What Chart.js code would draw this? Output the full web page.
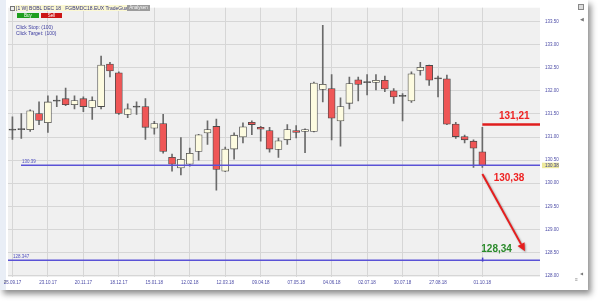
<!DOCTYPE html>
<html>
<head>
<meta charset="utf-8">
<script src="https://cdn.jsdelivr.net/npm/chart.js@4.4.1/dist/chart.umd.min.js"></script>
<style>
  html, body { margin:0; padding:0; background:#ffffff; width:606px; height:306px; overflow:hidden; }
  #panel { position:absolute; left:0; top:0; width:588px; height:290px; background:#ffffff;
           box-shadow: 3px 4px 6px rgba(0,0,0,0.45); }
  #stripe { position:absolute; left:0; top:0; width:6px; height:290px; background:#e9eef6; }
  canvas { position:absolute; left:0; top:0; }
  .t { position:absolute; font-family:"Liberation Sans", Arial, sans-serif; white-space:nowrap; line-height:1; }
</style>
</head>
<body>
<div id="panel">
  <div id="stripe"></div>
  <canvas id="c" width="588" height="290"></canvas>
  <div class="t" style="left:10px;top:6px;width:3px;height:3px;border:0.5px solid #777;background:#eee;"></div>
  <div class="t" style="left:15px;top:5px;height:6px;padding:0 1px;background:#fbf8d2;color:#33337a;font-size:5px;line-height:6px;">[1 W] BOBL DEC 18&nbsp;&nbsp; FGBMDC18.EUX TradeGuard</div>
  <div class="t" style="left:127px;top:5px;width:23px;height:6px;background:#9c9c9c;color:#f4f4f4;font-size:4.5px;line-height:6px;text-align:center;">Analysen</div>
  <div class="t" style="left:17px;top:13px;width:22px;height:5px;background:#1e9e1e;color:#ffffff;font-size:4.5px;line-height:5px;text-align:center;">Buy</div>
  <div class="t" style="left:41px;top:13px;width:21px;height:5px;background:#cc1515;color:#ffffff;font-size:4.5px;line-height:5px;text-align:center;">Sell</div>
  <div class="t" style="left:16px;top:25px;color:#3c3ca0;font-size:5px;">Click Stop: (100)</div>
  <div class="t" style="left:16px;top:31px;color:#3c3ca0;font-size:5px;">Click Target: (100)</div>
  <div class="t" style="left:578px;top:4px;width:4px;height:4px;border:0.5px solid #888;background:#ddd;"></div>
  <div class="t" style="left:580px;top:17px;color:#777;font-size:5px;">&#9664;</div>
  <div class="t" style="left:575px;top:277px;color:#888;font-size:5px;">&#8801;</div>
  <div class="t" style="left:580px;top:272px;color:#777;font-size:4px;">&#9664;</div>
  <div class="t" style="left:4px;top:279px;color:#888;font-size:5px;">&#8801;</div>
</div>
<script>
// ---- data ----
const weeks = [
  '25.09.17','02.10.17','09.10.17','16.10.17','23.10.17','30.10.17','06.11.17','13.11.17','20.11.17','27.11.17',
  '04.12.17','11.12.17','18.12.17','25.12.17','01.01.18','08.01.18','15.01.18','22.01.18','29.01.18','05.02.18',
  '12.02.18','19.02.18','26.02.18','05.03.18','12.03.18','19.03.18','26.03.18','02.04.18','09.04.18','16.04.18',
  '23.04.18','30.04.18','07.05.18','14.05.18','21.05.18','28.05.18','04.06.18','11.06.18','18.06.18','25.06.18',
  '02.07.18','09.07.18','16.07.18','23.07.18','30.07.18','06.08.18','13.08.18','20.08.18','27.08.18','03.09.18',
  '10.09.18','17.09.18','24.09.18','01.10.18'
];
const futureSlots = ['+1','+2','+3','+4','+5','+6'];
const opens  = [131.15,131.16,131.16,131.51,131.31,131.78,131.83,131.70,131.83,131.64,131.66,132.58,132.39,131.49,131.65,131.66,131.19,131.29,130.56,130.33,130.41,130.69,131.09,131.23,130.26,130.74,131.00,131.32,131.21,131.14,130.73,130.94,131.14,131.12,131.12,132.03,132.05,131.35,131.73,132.24,132.18,132.18,132.23,132.00,131.88,131.78,132.44,132.55,132.26,132.26,131.28,131.01,130.91,130.68];
const highs  = [131.44,131.51,131.59,131.76,131.89,131.89,132.06,131.89,131.87,131.87,132.75,132.62,132.41,131.72,131.76,131.83,131.34,131.49,130.63,130.99,130.76,131.06,131.35,131.39,130.78,131.09,131.31,131.35,131.23,131.21,130.98,131.27,131.25,131.18,132.19,133.42,132.35,131.85,132.30,132.30,132.35,132.35,132.32,132.05,131.94,132.41,132.62,132.56,132.32,132.34,131.32,131.04,130.94,131.21];
const lows   = [130.95,130.97,131.12,131.27,131.10,131.66,131.68,131.61,131.55,131.38,131.61,132.30,131.49,131.42,131.49,130.95,131.06,130.65,130.26,130.18,130.37,130.50,130.84,129.85,130.25,130.52,130.87,131.05,130.91,130.67,130.56,130.84,130.98,130.66,131.11,131.76,130.94,130.80,131.61,131.78,131.91,132.02,131.98,131.73,131.35,131.75,132.34,132.12,131.87,131.27,130.97,130.87,130.34,130.34];
const closes = [131.17,131.18,131.57,131.36,131.76,131.80,131.70,131.79,131.66,131.79,132.56,132.43,131.51,131.61,131.67,131.21,131.29,130.69,130.41,130.52,130.65,131.05,131.16,130.30,130.74,131.04,131.22,131.27,131.17,130.74,130.92,131.16,131.10,131.16,132.17,132.14,131.41,131.66,132.16,132.14,132.20,132.23,132.04,131.87,131.90,132.37,132.51,132.23,132.28,131.28,131.01,130.94,130.76,130.38];
const xTickLabels = ['25.09.17','23.10.17','20.11.17','18.12.17','15.01.18','12.02.18','12.03.18','09.04.18','07.05.18','04.06.18','02.07.18','30.07.18','27.08.18','01.10.18'];
const yTicks = [128.00,128.50,129.00,129.50,130.00,130.50,131.00,131.50,132.00,132.50,133.00,133.50];
const levelValues = [130.39, 128.347];
const levelLabels = ['130.39', '128.347'];
const lastPrice = 130.38;
const resistance = 131.21;
const target = 128.34;
const noteLabels = ['131,21', '130,38', '128,34'];

// ---- build ----
const categories = weeks.concat(futureSlots);
const shown = new Set(xTickLabels.map(l => weeks.indexOf(l)));
const bodies = opens.map((o, i) => {
  const c = closes[i];
  if (Math.abs(c - o) < 0.025) { const m = (o + c) / 2; return [m - 0.012, m + 0.012]; }
  return [o, c];
});
const bodyColors = opens.map((o, i) => {
  const c = closes[i];
  if (Math.abs(c - o) < 0.025) return '#505050';
  return c > o ? '#fdfbe0' : '#ef5656';
});
const wicks = lows.map((l, i) => [l, highs[i]]);

const overlay = {
  id: 'overlay',
  beforeDraw(chart) {
    const { ctx, chartArea: a } = chart;
    ctx.save();
    ctx.fillStyle = '#f0f0f0';
    ctx.fillRect(a.left, a.top, a.width, a.height);
    ctx.restore();
  },
  afterDatasetsDraw(chart) {
    const { ctx, chartArea: a, scales: { x, y } } = chart;
    const last = weeks.length - 1;
    ctx.save();
    // level lines
    ctx.strokeStyle = '#5a52d6';
    ctx.lineWidth = 1.5;
    const starts = [a.left + 13, a.left];
    levelValues.forEach((v, k) => {
      const py = Math.round(y.getPixelForValue(v)) + 0.25;
      ctx.beginPath(); ctx.moveTo(starts[k], py); ctx.lineTo(a.right, py); ctx.stroke();
      ctx.fillStyle = '#5252c0';
      ctx.font = '4.5px "Liberation Sans", Arial, sans-serif';
      ctx.textBaseline = 'bottom';
      ctx.textAlign = 'left';
      ctx.fillText(levelLabels[k], starts[k] + (k === 0 ? 1 : 5), py - 1.5);
    });
    // marker on target line
    const mx = x.getPixelForValue(last);
    const my = y.getPixelForValue(levelValues[1]);
    ctx.fillStyle = '#4a42c8';
    ctx.fillRect(mx - 0.5, my - 2, 1.5, 4);
    // red resistance line
    const ry = y.getPixelForValue(resistance + 0.06);
    ctx.strokeStyle = '#e01e1e';
    ctx.lineWidth = 2.5;
    ctx.beginPath(); ctx.moveTo(mx, ry); ctx.lineTo(a.right, ry); ctx.stroke();
    // arrow
    const x0 = x.getPixelForValue(last), y0 = y.getPixelForValue(130.20);
    const x1 = x.getPixelForValue(last + 4.8), y1 = y.getPixelForValue(128.53);
    ctx.shadowColor = 'rgba(0,0,0,0.35)';
    ctx.shadowBlur = 2; ctx.shadowOffsetX = 1; ctx.shadowOffsetY = 1;
    ctx.strokeStyle = '#e61e1e'; ctx.fillStyle = '#e61e1e';
    ctx.lineWidth = 2;
    const ang = Math.atan2(y1 - y0, x1 - x0);
    const hl = 8, hw = 4;
    const bx = x1 - hl * Math.cos(ang), by = y1 - hl * Math.sin(ang);
    ctx.beginPath(); ctx.moveTo(x0, y0); ctx.lineTo(bx, by); ctx.stroke();
    ctx.beginPath();
    ctx.moveTo(x1, y1);
    ctx.lineTo(bx + hw * Math.sin(ang), by - hw * Math.cos(ang));
    ctx.lineTo(bx - hw * Math.sin(ang), by + hw * Math.cos(ang));
    ctx.closePath(); ctx.fill();
    ctx.shadowColor = 'transparent';
    // note texts
    ctx.font = 'bold 10px "Liberation Sans", Arial, sans-serif';
    ctx.textAlign = 'center'; ctx.textBaseline = 'middle';
    ctx.fillStyle = '#ee2222';
    ctx.fillText(noteLabels[0], x.getPixelForValue(last + 3.6), y.getPixelForValue(131.443));
    ctx.fillText(noteLabels[1], x.getPixelForValue(last + 3.0), y.getPixelForValue(130.114));
    ctx.fillStyle = '#2a8a2a';
    ctx.fillText(noteLabels[2], x.getPixelForValue(last + 1.6), y.getPixelForValue(target + 0.23));
    ctx.restore();
  },
  afterDraw(chart) {
    const { ctx, chartArea: a, scales: { y } } = chart;
    const py = y.getPixelForValue(lastPrice);
    ctx.save();
    ctx.fillStyle = '#eeea9c';
    ctx.fillRect(a.right + 2, py - 3, 17, 5.5);
    ctx.fillStyle = '#3c3c90';
    ctx.font = '4.5px "Liberation Sans", Arial, sans-serif';
    ctx.textAlign = 'left'; ctx.textBaseline = 'middle';
    ctx.fillText(lastPrice.toFixed(2), a.right + 5, py);
    ctx.restore();
  }
};

new Chart(document.getElementById('c'), {
  type: 'bar',
  data: {
    labels: categories,
    datasets: [
      { data: bodies, backgroundColor: bodyColors, borderColor: '#4a4a4a', borderWidth: 0.8,
        borderSkipped: false, barThickness: 7, grouped: false },
      { data: wicks, backgroundColor: '#6a6a6a', borderWidth: 0, barThickness: 1, grouped: false }
    ]
  },
  options: {
    responsive: false,
    animation: false,
    devicePixelRatio: 1,
    layout: { padding: { left: 8, top: 5, right: 0, bottom: 0 } },
    plugins: { legend: { display: false }, tooltip: { enabled: false } },
    scales: {
      x: {
        offset: true,
        grid: { offset: false, drawTicks: false,
                color: c => shown.has(c.index) ? '#d6d6d6' : 'rgba(0,0,0,0)', lineWidth: 1 },
        border: { display: false },
        ticks: { autoSkip: false, maxRotation: 0, minRotation: 0, padding: 3, color: '#4b4ba6',
                 font: { size: 4.5, family: '"Liberation Sans", Arial, sans-serif' },
                 callback: (v, i) => shown.has(i) ? categories[i] : '' },
        afterFit: s => { s.height = 13; }
      },
      y: {
        position: 'right',
        min: 127.97, max: 133.80,
        afterBuildTicks: s => { s.ticks = yTicks.map(v => ({ value: v })); },
        grid: { drawTicks: false, color: '#d6d6d6' },
        border: { display: false },
        ticks: { padding: 5, color: '#4b4ba6', font: { size: 4.5, family: '"Liberation Sans", Arial, sans-serif' },
                 callback: v => Number(v).toFixed(2) },
        afterFit: s => { s.width = 48; }
      }
    }
  },
  plugins: [overlay]
});
</script>
</body>
</html>
